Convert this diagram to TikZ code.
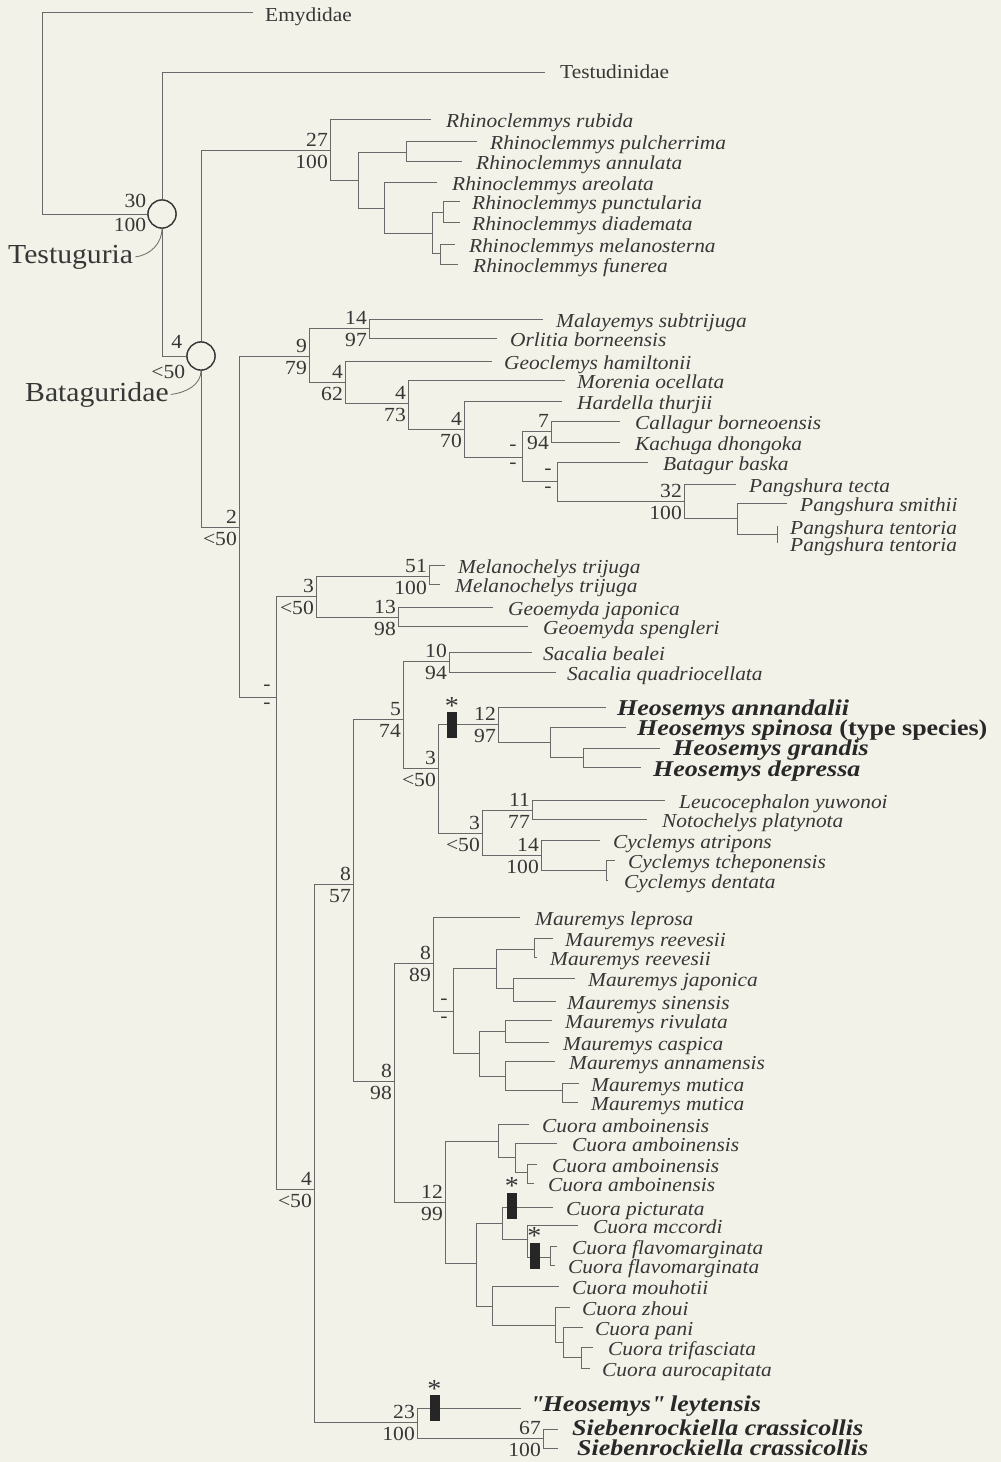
\documentclass[tikz,border=0pt]{standalone}
\usepackage{fontspec}
\setmainfont{Liberation Serif}[FakeStretch=1.08]
\newfontfamily\bfam{Liberation Serif}[FakeStretch=1.15]
\definecolor{bgc}{RGB}{242,242,232}
\definecolor{linec}{RGB}{105,105,105}
\definecolor{txtc}{RGB}{55,55,55}
\definecolor{txtb}{RGB}{40,40,40}
\newcommand\sq{\XeTeXglyph\XeTeXcharglyph"22\relax}
\newcommand\leafn[5]{\coordinate (#1) at (#2,#3); \node[sp] (t#1) at (#4,#3+8) {#5};}
\newcommand\leafb[6]{\coordinate (#1) at (#2,#3); \node[spb] (t#1) at (#4,#3+#5) {#6};}
\newcommand\inode[3]{\coordinate (#1) at (#2,#3);}
\newcommand\bsup[3]{\node[num,anchor=south east] (#1a) at ([xshift=-2pt,yshift=3pt]#1) {#2};
  \node[num,anchor=north east] (#1b) at ([xshift=-2pt,yshift=-4pt]#1) {#3};}
\newcommand\dsup[1]{\node[dsh] (#1a) at ([xshift=-9pt,yshift=9pt]#1) {-};
  \node[dsh] (#1b) at ([xshift=-9pt,yshift=-9pt]#1) {-};}
\begin{document}
\begin{tikzpicture}[x=1pt,y=-1pt,
 branch/.style={draw=linec, line width=0.8pt},
 sp/.style={anchor=base west, inner sep=0pt, text=txtc, font=\fontsize{19.8}{22}\selectfont\itshape},
 spb/.style={anchor=base west, inner sep=0pt, text=txtb, font=\bfam\fontsize{22.6}{24}\selectfont\bfseries\itshape},
 fam/.style={anchor=base west, inner sep=0pt, text=txtc, font=\fontsize{19.8}{22}\selectfont},
 big/.style={anchor=base west, inner sep=0pt, text=txtc, font=\fontsize{27.5}{30}\selectfont},
 num/.style={inner sep=0pt, text height=14pt, text depth=0pt, text=txtc, font=\fontsize{20}{22}\selectfont},
 dsh/.style={inner sep=0pt, anchor=center, text=txtc, font=\fontsize{20}{22}\selectfont},
 circ/.style={circle, draw=txtc, line width=1.3pt, minimum size=28pt, inner sep=0pt, fill=bgc},
 barn/.style={fill=black!85, draw=none, minimum width=10pt, minimum height=26pt, inner sep=0pt},
 ast/.style={anchor=center, inner sep=0pt, text=txtc, font=\fontsize{26}{28}\selectfont},
]
\fill[bgc] (0,0) rectangle (1001,1462);
\useasboundingbox (0,0) rectangle (1001,1462);

% root and families
\inode{R}{42}{113}
\coordinate (Em) at (253,12.5);
\node[fam] (tEm) at (265,21) {Emydidae};
\coordinate (Te) at (545,72);
\node[fam] (tTe) at (560,78.5) {Testudinidae};
\node[circ] (T) at (162,214) {};
\node[circ] (B) at (201,356) {};
\node[num,anchor=south east] (Ta) at ([xshift=-1pt,yshift=6pt]T.west) {30};
\node[num,anchor=north east] (Tb) at ([xshift=-1pt,yshift=-3pt]T.west) {100};
\node[num,anchor=south east] (Ba) at ([xshift=-4pt,yshift=7pt]B.west) {4};
\node[num,anchor=north east] (Bb) at ([xshift=-1pt,yshift=-8pt]B.west) {<50};
\node[big] (tTg) at (8,263) {Testuguria};
\node[big] (tBg) at (25,401) {Bataguridae};

% Rhinoclemmys
\inode{Rh}{330}{150} \bsup{Rh}{27}{100}
\leafn{rub}{431}{119}{446}{Rhinoclemmys rubida}
\inode{r1}{358}{180}
\inode{r2}{406}{152}
\leafn{pul}{477}{141}{490}{Rhinoclemmys pulcherrima}
\leafn{ann}{462}{161}{476}{Rhinoclemmys annulata}
\inode{r3}{384}{208}
\leafn{are}{437}{182}{452}{Rhinoclemmys areolata}
\inode{r4}{432}{233}
\inode{r5}{443}{212}
\leafn{pun}{460}{201}{472}{Rhinoclemmys punctularia}
\leafn{dia}{460}{222}{472}{Rhinoclemmys diademata}
\inode{r6}{440}{253}
\leafn{mel}{455}{244}{469}{Rhinoclemmys melanosterna}
\leafn{fun}{458}{264}{473}{Rhinoclemmys funerea}

% Batagurinae-type clade
\inode{n2}{239}{527} \bsup{n2}{2}{<50}
\inode{n9}{309}{356} \bsup{n9}{9}{79}
\inode{n14}{369}{328} \bsup{n14}{14}{97}
\leafn{mal}{543}{319}{556}{Malayemys subtrijuga}
\leafn{orl}{497}{338}{510}{Orlitia borneensis}
\inode{n4a}{345}{382} \bsup{n4a}{4}{62}
\leafn{geo}{492}{361}{504}{Geoclemys hamiltonii}
\inode{n4b}{408}{403} \bsup{n4b}{4}{73}
\leafn{mor}{565}{380}{577}{Morenia ocellata}
\inode{n4c}{464}{429} \bsup{n4c}{4}{70}
\leafn{har}{562}{401}{577}{Hardella thurjii}
\inode{nd2}{522}{457} \dsup{nd2}
\inode{n7}{551}{431} \bsup{n7}{7}{94}
\leafn{cal}{620}{421}{635}{Callagur borneoensis}
\leafn{kac}{620}{442}{635}{Kachuga dhongoka}
\inode{nd3}{557}{481} \dsup{nd3}
\leafn{bat}{648}{462}{663}{Batagur baska}
\inode{n32}{684}{501} \bsup{n32}{32}{100}
\leafn{tec}{736}{484}{749}{Pangshura tecta}
\inode{p1}{737}{518}
\leafn{smi}{787}{503}{800}{Pangshura smithii}
\inode{p2}{777}{534}
\leafn{ten1}{777}{526}{790}{Pangshura tentoria}
\leafn{ten2}{777}{543}{790}{Pangshura tentoria}

% Geoemydinae-type clade
\inode{nd1}{276}{697} \dsup{nd1}
\inode{n3}{316}{596} \bsup{n3}{3}{<50}
\inode{n51}{429}{576} \bsup{n51}{51}{100}
\leafn{mt1}{445}{565}{458}{Melanochelys trijuga}
\leafn{mt2}{440}{584}{455}{Melanochelys trijuga}
\inode{n13}{398}{617} \bsup{n13}{13}{98}
\leafn{gja}{493}{607}{508}{Geoemyda japonica}
\leafn{gsp}{528}{626}{543}{Geoemyda spengleri}
\inode{n4d}{314}{1189} \bsup{n4d}{4}{<50}
\inode{n8a}{353}{884} \bsup{n8a}{8}{57}
\inode{n5}{403}{719} \bsup{n5}{5}{74}
\inode{n10}{449}{661} \bsup{n10}{10}{94}
\leafn{sbe}{532}{652}{543}{Sacalia bealei}
\leafn{squ}{556}{672}{567}{Sacalia quadriocellata}
\inode{n3b}{438}{768} \bsup{n3b}{3}{<50}
\inode{n12}{498}{724} \bsup{n12}{12}{97}
\leafb{han}{606}{707}{617}{8}{Heosemys annandalii}
\inode{h1}{550}{742}
\leafb{hsp}{626}{727}{637}{8}{Heosemys spinosa \textup{(type species)}}
\inode{h2}{583}{757}
\leafb{hgr}{660}{748}{673}{7}{Heosemys grandis}
\leafb{hde}{641}{767}{653}{9}{Heosemys depressa}
\inode{n3c}{482}{833} \bsup{n3c}{3}{<50}
\inode{n11}{532}{810} \bsup{n11}{11}{77}
\leafn{leu}{665}{800}{679}{Leucocephalon yuwonoi}
\leafn{not}{647}{819}{662}{Notochelys platynota}
\inode{n14b}{541}{855} \bsup{n14b}{14}{100}
\leafn{cat}{600}{840}{613}{Cyclemys atripons}
\inode{c1}{606}{870}
\leafn{cte}{615}{860}{628}{Cyclemys tcheponensis}
\leafn{cde}{608}{880}{624}{Cyclemys dentata}

% Mauremys
\inode{n8b}{394}{1081} \bsup{n8b}{8}{98}
\inode{n8c}{433}{963} \bsup{n8c}{8}{89}
\leafn{mle}{520}{917}{535}{Mauremys leprosa}
\inode{nd4}{453}{1011} \dsup{nd4}
\inode{m1}{496}{968}
\inode{m2}{534}{949}
\leafn{mr1}{553}{938}{565}{Mauremys reevesii}
\leafn{mr2}{537}{957}{550}{Mauremys reevesii}
\inode{m3}{513}{988}
\leafn{mja}{575}{978}{588}{Mauremys japonica}
\leafn{msi}{556}{1001}{567}{Mauremys sinensis}
\inode{m4}{479}{1053}
\inode{m5}{505}{1031}
\leafn{mri}{552}{1020}{565}{Mauremys rivulata}
\leafn{mca}{549}{1042}{563}{Mauremys caspica}
\inode{m6}{505}{1076}
\leafn{man}{555}{1061}{569}{Mauremys annamensis}
\inode{m7}{562}{1090}
\leafn{mm1}{579}{1083}{591}{Mauremys mutica}
\leafn{mm2}{578}{1102}{591}{Mauremys mutica}

% Cuora
\inode{n12b}{445}{1202} \bsup{n12b}{12}{99}
\inode{c2}{498}{1141}
\leafn{ca1}{529}{1124}{542}{Cuora amboinensis}
\inode{c3}{515}{1157}
\leafn{ca2}{557}{1143}{572}{Cuora amboinensis}
\inode{c4}{527}{1172}
\leafn{ca3}{537}{1164}{552}{Cuora amboinensis}
\leafn{ca4}{534}{1183}{548}{Cuora amboinensis}
\inode{c5}{476}{1263}
\inode{c6}{502}{1223}
\leafn{cpi}{553}{1207}{566}{Cuora picturata}
\inode{c7}{527}{1239}
\leafn{cmc}{578}{1225}{593}{Cuora mccordi}
\inode{c8}{550}{1257}
\leafn{cf1}{557}{1246}{572}{Cuora flavomarginata}
\leafn{cf2}{555}{1265}{568}{Cuora flavomarginata}
\inode{c9}{492}{1306}
\leafn{cmo}{559}{1286}{572}{Cuora mouhotii}
\inode{c10}{555}{1325}
\leafn{czh}{570}{1307}{582}{Cuora zhoui}
\inode{c11}{563}{1342}
\leafn{cpa}{583}{1327}{595}{Cuora pani}
\inode{c12}{581}{1357}
\leafn{ctr}{593}{1347}{608}{Cuora trifasciata}
\leafn{cau}{590}{1368}{602}{Cuora aurocapitata}

% bottom clade
\inode{n23}{417}{1422} \bsup{n23}{23}{100}
\leafb{ley}{521}{1408}{530}{3}{\sq Heosemys\sq{} leytensis}
\inode{n67}{543}{1438} \bsup{n67}{67}{100}
\leafb{sb1}{558}{1429}{572}{6}{Siebenrockiella crassicollis}
\leafb{sb2}{558}{1448}{577}{7}{Siebenrockiella crassicollis}

% branches
\foreach \a/\b in {R/Em, R/T.west, T.north/Te, T.south/B.west, B.north/Rh, B.south/n2,
  Rh/rub, Rh/r1, r1/r2, r2/pul, r2/ann, r1/r3, r3/are, r3/r4, r4/r5, r5/pun, r5/dia, r4/r6, r6/mel, r6/fun,
  n2/n9, n9/n14, n14/mal, n14/orl, n9/n4a, n4a/geo, n4a/n4b, n4b/mor, n4b/n4c, n4c/har, n4c/nd2,
  nd2/n7, n7/cal, n7/kac, nd2/nd3, nd3/bat, nd3/n32, n32/tec, n32/p1, p1/smi, p1/p2, p2/ten1, p2/ten2,
  n2/nd1, nd1/n3, n3/n51, n51/mt1, n51/mt2, n3/n13, n13/gja, n13/gsp, nd1/n4d, n4d/n8a,
  n8a/n5, n5/n10, n10/sbe, n10/squ, n5/n3b, n3b/n12, n12/han, n12/h1, h1/hsp, h1/h2, h2/hgr, h2/hde,
  n3b/n3c, n3c/n11, n11/leu, n11/not, n3c/n14b, n14b/cat, n14b/c1, c1/cte, c1/cde,
  n8a/n8b, n8b/n8c, n8c/mle, n8c/nd4, nd4/m1, m1/m2, m2/mr1, m2/mr2, m1/m3, m3/mja, m3/msi,
  nd4/m4, m4/m5, m5/mri, m5/mca, m4/m6, m6/man, m6/m7, m7/mm1, m7/mm2,
  n8b/n12b, n12b/c2, c2/ca1, c2/c3, c3/ca2, c3/c4, c4/ca3, c4/ca4, n12b/c5, c5/c6, c6/cpi, c6/c7,
  c7/cmc, c7/c8, c8/cf1, c8/cf2, c5/c9, c9/cmo, c9/c10, c10/czh, c10/c11, c11/cpa, c11/c12, c12/ctr, c12/cau,
  n4d/n23, n23/ley, n23/n67, n67/sb1, n67/sb2}
  {\draw[branch] (\a) |- (\b);}

% circles on top
\node[circ] at (T) {};
\node[circ] at (B) {};

% label curves
\draw[branch] ([xshift=2pt]tTg.east) .. controls +(16,-2) and +(0,14) .. (T.south);
\draw[branch] ([xshift=2pt]tBg.east) .. controls +(16,-2) and +(0,14) .. (B.south);

% synapomorphy bars
\node[barn] (bar1) at (452,725) {};
\node[ast] (ast1) at ([yshift=6pt]bar1.north) {*};
\node[barn] (bar2) at (512,1205.5) {};
\node[ast] (ast2) at ([yshift=6pt]bar2.north) {*};
\node[barn] (bar3) at (534.5,1255.5) {};
\node[ast] (ast3) at ([yshift=6pt]bar3.north) {*};
\node[barn] (bar4) at (434.5,1408) {};
\node[ast] (ast4) at ([yshift=6pt]bar4.north) {*};
\end{tikzpicture}
\end{document}
